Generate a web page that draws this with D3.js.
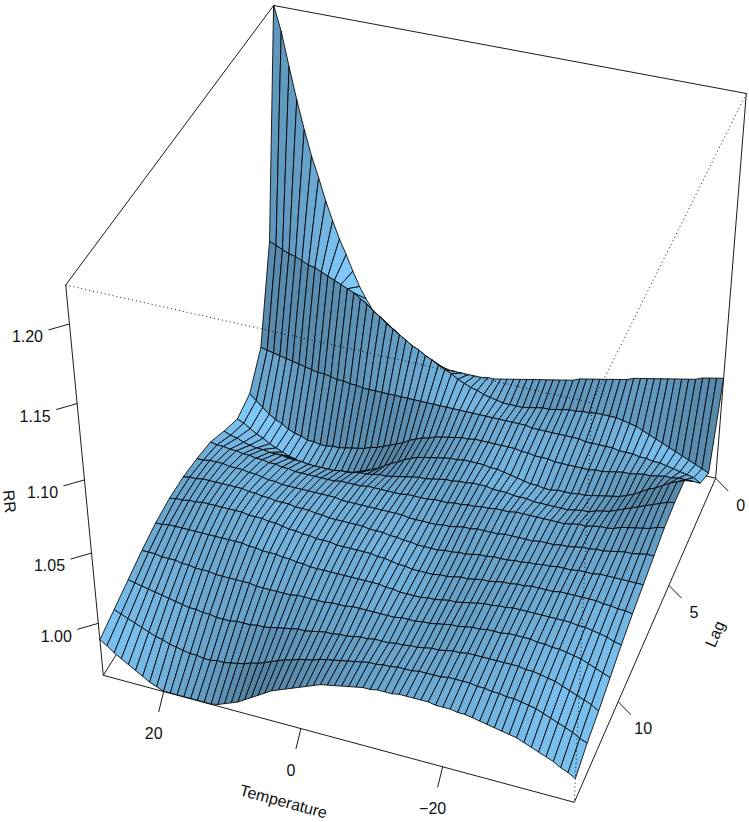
<!DOCTYPE html>
<html><head><meta charset="utf-8"><script src="https://cdn.jsdelivr.net/npm/d3@7"></script>
<style>html,body{margin:0;background:#fff}text{font-family:"Liberation Sans",Arial,sans-serif;font-size:16px;fill:#111}</style></head><body><svg id="c" width="749" height="822"></svg>
<script>
// Grid axes
const temperature=d3.range(29,-39,-1);
const lag=d3.range(0,15);
const rrLimits=[0.9617,1.2237];
const tempTicks=[20,0,-20];
const lagTicks=[0,5,10];
const rrTicks=[1,1.05,1.1,1.15,1.2];
// RR per lag, one value per temperature from 29 down to -38
const rrLag0=[1.224,1.208,1.186,1.165,1.146,1.129,1.115,1.100,1.087,1.075,1.065,1.054,1.044,1.036,1.029,1.025,1.022,1.019,1.016,1.012,1.009,1.006,1.003,1.001,
0.999,0.998,0.997,0.997,0.997,0.997,0.997,0.997,0.998,0.998,0.999,1.000,1.001,1.002,1.003,1.004,1.005,1.006,1.007,1.008,1.009,1.010,1.012,1.013,
1.014,1.015,1.016,1.017,1.018,1.019,1.021,1.022,1.023,1.024,1.025,1.026,1.027,1.028,1.029,1.030,1.032,1.033,1.034,1.035];
const rrLag1=[1.078,1.076,1.074,1.072,1.071,1.069,1.067,1.066,1.064,1.062,1.060,1.058,1.056,1.054,1.051,1.048,1.044,1.041,1.037,1.034,1.031,1.028,1.025,1.023,
1.020,1.018,1.015,1.013,1.011,1.008,1.006,1.004,1.003,1.001,1.000,0.999,0.998,0.998,0.998,0.998,0.999,1.000,1.001,1.001,1.002,1.003,1.004,1.004,
1.005,1.005,1.006,1.006,1.006,1.006,1.005,1.004,1.003,1.001,0.999,0.997,0.995,0.993,0.991,0.989,0.987,0.985,0.983,0.981];
const rrLag2=[1.015,1.014,1.013,1.012,1.011,1.010,1.009,1.008,1.007,1.006,1.006,1.005,1.004,1.004,1.003,1.003,1.002,1.002,1.002,1.002,1.002,1.002,1.002,1.002,
1.002,1.002,1.002,1.002,1.002,1.002,1.002,1.002,1.002,1.002,1.002,1.002,1.002,1.002,1.002,1.002,1.002,1.002,1.001,1.001,1.001,1.001,1.001,1.001,
1.001,1.001,1.000,1.000,1.000,1.000,1.000,0.999,0.999,0.999,0.998,0.998,0.997,0.997,0.996,0.995,0.994,0.993,0.992,0.989];
const rrLag3=[0.995,0.991,0.987,0.983,0.980,0.978,0.975,0.973,0.972,0.970,0.970,0.969,0.969,0.970,0.970,0.971,0.972,0.973,0.974,0.976,0.977,0.979,0.981,0.983,
0.985,0.988,0.990,0.992,0.993,0.995,0.996,0.997,0.998,0.999,0.999,1.000,1.000,1.000,1.000,1.000,1.000,1.000,0.999,0.999,0.998,0.998,0.998,0.997,
0.997,0.997,0.997,0.997,0.997,0.998,0.998,0.999,1.000,1.001,1.001,1.002,1.003,1.003,1.004,1.005,1.005,1.006,1.006,1.006];
const rrLag4=[0.991,0.989,0.986,0.983,0.981,0.978,0.976,0.974,0.972,0.971,0.969,0.969,0.968,0.968,0.967,0.968,0.968,0.969,0.971,0.972,0.975,0.977,0.979,0.982,
0.985,0.987,0.990,0.992,0.994,0.995,0.996,0.997,0.998,0.999,0.999,1.000,1.000,1.000,1.000,0.999,0.999,0.998,0.997,0.996,0.995,0.994,0.994,0.993,
0.993,0.994,0.994,0.994,0.995,0.995,0.996,0.997,0.998,0.999,1.000,1.002,1.004,1.007,1.010,1.012,1.015,1.018,1.020,1.022];
const rrLag5=[0.997,0.995,0.994,0.992,0.991,0.990,0.990,0.989,0.989,0.989,0.988,0.988,0.988,0.987,0.987,0.987,0.987,0.987,0.988,0.988,0.989,0.990,0.990,0.991,
0.992,0.992,0.993,0.994,0.995,0.996,0.997,0.997,0.998,0.999,1.000,1.000,1.001,1.001,1.002,1.002,1.002,1.001,1.001,1.001,1.000,1.000,1.000,0.999,
0.999,0.999,0.999,0.999,0.999,1.000,1.001,1.001,1.003,1.004,1.005,1.007,1.009,1.011,1.013,1.015,1.017,1.019,1.021,1.022];
const rrLag6=[1.004,1.003,1.003,1.002,1.002,1.001,1.001,1.000,1.000,0.999,0.999,0.998,0.998,0.997,0.997,0.997,0.997,0.997,0.997,0.997,0.998,0.998,0.998,0.998,
0.999,0.999,0.999,0.999,0.999,0.999,1.000,1.000,1.000,1.000,1.001,1.001,1.001,1.002,1.002,1.003,1.003,1.004,1.004,1.005,1.005,1.005,1.006,1.006,
1.006,1.006,1.006,1.006,1.006,1.006,1.007,1.008,1.008,1.009,1.010,1.010,1.011,1.013,1.014,1.015,1.016,1.017,1.019,1.020];
const rrLag7=[1.007,1.007,1.008,1.008,1.008,1.007,1.007,1.007,1.006,1.006,1.005,1.004,1.004,1.003,1.003,1.003,1.003,1.003,1.003,1.003,1.003,1.003,1.002,1.002,
1.002,1.002,1.002,1.002,1.002,1.002,1.002,1.002,1.001,1.001,1.001,1.001,1.001,1.002,1.002,1.003,1.004,1.004,1.005,1.005,1.005,1.005,1.006,1.006,
1.006,1.006,1.006,1.007,1.007,1.007,1.008,1.008,1.009,1.010,1.010,1.011,1.011,1.012,1.013,1.014,1.014,1.015,1.016,1.016];
const rrLag8=[1.009,1.010,1.010,1.011,1.011,1.011,1.011,1.011,1.011,1.011,1.010,1.010,1.009,1.009,1.008,1.008,1.008,1.007,1.007,1.007,1.006,1.006,1.005,1.005,
1.005,1.005,1.005,1.005,1.004,1.004,1.004,1.003,1.003,1.002,1.002,1.001,1.001,1.001,1.001,1.002,1.002,1.003,1.003,1.004,1.005,1.005,1.006,1.006,
1.006,1.007,1.007,1.008,1.008,1.009,1.009,1.010,1.010,1.010,1.011,1.011,1.011,1.012,1.012,1.012,1.012,1.012,1.012,1.012];
const rrLag9=[1.009,1.010,1.010,1.011,1.011,1.012,1.012,1.012,1.012,1.012,1.012,1.012,1.011,1.011,1.011,1.010,1.010,1.009,1.008,1.008,1.007,1.007,1.006,1.006,
1.006,1.005,1.005,1.005,1.005,1.005,1.005,1.004,1.004,1.003,1.002,1.002,1.001,1.001,1.001,1.001,1.002,1.002,1.003,1.004,1.004,1.005,1.006,1.006,
1.007,1.008,1.008,1.009,1.009,1.010,1.010,1.010,1.010,1.011,1.011,1.011,1.011,1.011,1.011,1.010,1.010,1.009,1.009,1.008];
const rrLag10=[1.007,1.007,1.008,1.008,1.008,1.008,1.008,1.008,1.008,1.008,1.008,1.008,1.008,1.008,1.007,1.007,1.006,1.006,1.006,1.005,1.005,1.004,1.004,1.003,
1.003,1.003,1.003,1.003,1.003,1.003,1.003,1.003,1.003,1.003,1.002,1.002,1.001,1.001,1.001,1.001,1.002,1.002,1.003,1.004,1.004,1.005,1.006,1.007,
1.008,1.008,1.009,1.009,1.010,1.010,1.010,1.010,1.010,1.010,1.010,1.010,1.010,1.009,1.009,1.008,1.007,1.006,1.004,1.003];
const rrLag11=[1.003,1.003,1.003,1.002,1.002,1.002,1.001,1.001,1.000,1.000,1.000,0.999,0.999,0.999,0.999,0.999,0.999,0.998,0.998,0.998,0.998,0.998,0.998,0.999,
0.999,0.999,0.999,0.999,1.000,1.000,1.000,1.001,1.001,1.001,1.001,1.001,1.001,1.001,1.002,1.002,1.002,1.003,1.003,1.004,1.005,1.006,1.006,1.007,
1.008,1.008,1.009,1.009,1.009,1.010,1.010,1.010,1.010,1.009,1.009,1.008,1.008,1.007,1.006,1.005,1.003,1.001,0.999,0.997];
const rrLag12=[0.998,0.997,0.996,0.995,0.994,0.993,0.992,0.991,0.990,0.989,0.989,0.988,0.988,0.987,0.987,0.987,0.988,0.988,0.988,0.989,0.989,0.990,0.991,0.992,
0.993,0.994,0.994,0.995,0.996,0.997,0.997,0.998,0.998,0.999,1.000,1.000,1.001,1.001,1.001,1.002,1.002,1.003,1.003,1.004,1.005,1.005,1.006,1.007,
1.007,1.008,1.008,1.008,1.008,1.008,1.008,1.008,1.008,1.007,1.007,1.006,1.005,1.004,1.002,1.000,0.998,0.996,0.994,0.991];
const rrLag13=[0.993,0.991,0.989,0.987,0.985,0.983,0.981,0.980,0.978,0.977,0.976,0.975,0.975,0.974,0.974,0.975,0.975,0.976,0.977,0.978,0.980,0.981,0.983,0.985,
0.987,0.989,0.990,0.992,0.993,0.994,0.996,0.997,0.998,0.999,1.000,1.001,1.002,1.003,1.003,1.004,1.004,1.005,1.005,1.005,1.006,1.006,1.006,1.006,
1.007,1.007,1.007,1.007,1.006,1.006,1.005,1.005,1.004,1.004,1.003,1.002,1.001,0.999,0.997,0.995,0.993,0.991,0.988,0.986];
const rrLag14=[0.988,0.985,0.981,0.978,0.975,0.972,0.969,0.966,0.964,0.962,0.962,0.962,0.962,0.962,0.962,0.962,0.962,0.963,0.965,0.967,0.969,0.972,0.975,0.978,
0.981,0.984,0.986,0.988,0.990,0.992,0.994,0.996,0.998,0.999,1.000,1.001,1.002,1.003,1.004,1.004,1.005,1.005,1.005,1.006,1.006,1.006,1.006,1.006,
1.005,1.005,1.005,1.004,1.004,1.003,1.002,1.001,1.000,0.999,0.998,0.997,0.995,0.993,0.991,0.989,0.987,0.984,0.982,0.979];
const rr=[rrLag0,rrLag1,rrLag2,rrLag3,rrLag4,rrLag5,rrLag6,rrLag7,rrLag8,rrLag9,rrLag10,rrLag11,rrLag12,rrLag13,rrLag14];

// Perspective viewing matrix of the box (like the one R's persp returns)
const view=[[440.53,219,-44.39,103.3],[84.43,-250,-419.74,675.3],[-.05306,.119,-.10329,1]];
const Th=temperature[0],Tl=temperature[temperature.length-1],Lb=lag[0],Lf=lag[lag.length-1],Zl=rrLimits[0],Zh=rrLimits[1];
const aS=d3.scaleLinear().domain([Th,Tl]).range([0,1]),bS=d3.scaleLinear().domain([Lf,Lb]).range([0,1]),cS=d3.scaleLinear().domain(rrLimits).range([0,1]);
function proj(T,L,z){const a=aS(T),b=bS(L),c=cS(z),P=view,w=P[2][0]*a+P[2][1]*b+P[2][2]*c+P[2][3];
 return [(P[0][0]*a+P[0][1]*b+P[0][2]*c+P[0][3])/w,(P[1][0]*a+P[1][1]*b+P[1][2]*c+P[1][3])/w];}

const svg=d3.select('#c');
const line=(pts,dash)=>svg.append('path').attr('d',d3.line()(pts)).attr('fill','none').attr('stroke','#000').attr('stroke-width',.9).attr('stroke-dasharray',dash||null);
const edge=(p,q,dash)=>line([proj(...p),proj(...q)],dash);
// back faces of the box
[[[Th,Lb,Zl],[Th,Lf,Zl]],[[Th,Lb,Zl],[Tl,Lb,Zl]],[[Th,Lf,Zl],[Tl,Lf,Zl]],[[Tl,Lf,Zl],[Tl,Lb,Zl]],[[Th,Lf,Zl],[Th,Lf,Zh]],[[Tl,Lb,Zl],[Tl,Lb,Zh]],[[Th,Lb,Zl],[Th,Lb,Zh]],[[Th,Lf,Zh],[Th,Lb,Zh]],[[Th,Lb,Zh],[Tl,Lb,Zh]]].forEach(e=>edge(e[0],e[1]));

// surface, painted from the far corner forward, shaded from the facet slope
const Light=[.75,-.06,.58],skyBlue=[130,205,255];
const nT=temperature.length,nL=lag.length,clampI=i=>Math.max(0,Math.min(nT-1,i));
function shade(i,j){
 const lo=clampI(i-3),hi=clampI(i+4);
 const dA=aS(temperature[hi])-aS(temperature[lo]),dV=bS(lag[j])-bS(lag[j+1]);
 const fa=.5*(cS(rr[j][hi])-cS(rr[j][lo])+cS(rr[j+1][hi])-cS(rr[j+1][lo]))/dA;
 let fv=0;for(let k=lo;k<=hi;k++)fv+=cS(rr[j+1][k])-cS(rr[j][k]);fv/=(hi-lo+1)*dV;
 const s=Math.hypot(fa,fv,1),d=(-fa*Light[0]-fv*Light[1]+Light[2])/s;
 return Math.pow(.5*(1+Math.max(-1,Math.min(1,d))),.75);
}
const g=svg.append('g');
for(let j=0;j<nL-1;j++)for(let i=0;i<nT-1;i++){
 const s=shade(i,j);
 const poly=[[i,j],[i+1,j],[i+1,j+1],[i,j+1]].map(q=>proj(temperature[q[0]],lag[q[1]],rr[q[1]][q[0]]));
 g.append('path').attr('d','M'+poly.join('L')+'Z').attr('fill',`rgb(${skyBlue.map(b=>Math.round(b*s)).join(',')})`).attr('stroke','#000').attr('stroke-width',.85);
}
// front edges of the box, dotted
[[[Th,Lf,Zh],[Tl,Lf,Zh]],[[Tl,Lb,Zh],[Tl,Lf,Zh]],[[Tl,Lf,Zh],[Tl,Lf,Zl]]].forEach(e=>edge(e[0],e[1],'1,3'));

// axes
const tick=(p,dv,lv,label)=>{line([p,[p[0]+dv[0],p[1]+dv[1]]]);svg.append('text').attr('x',p[0]+lv[0]).attr('y',p[1]+lv[1]).attr('text-anchor','middle').attr('dominant-baseline','central').text(label);};
tempTicks.forEach(t=>tick(proj(t,Lf,Zl),[-5,20.5],[-10,41.5],String(t).replace('-','\u2212')));
lagTicks.forEach(l=>tick(proj(Tl,l,Zl),[12.7,13],[25,27],l));
rrTicks.forEach(z=>tick(proj(Th,Lf,z),[-21,6],[-42,12.7],z.toFixed(2)));
const rot=(x,y,a,s)=>svg.append('text').attr('transform',`translate(${x},${y}) rotate(${a})`).attr('text-anchor','middle').attr('dominant-baseline','central').text(s);
rot(283.5,801.5,15.1,'Temperature');rot(715,634,-66.5,'Lag');rot(9.5,501.5,84.5,'RR');
</script></body></html>
